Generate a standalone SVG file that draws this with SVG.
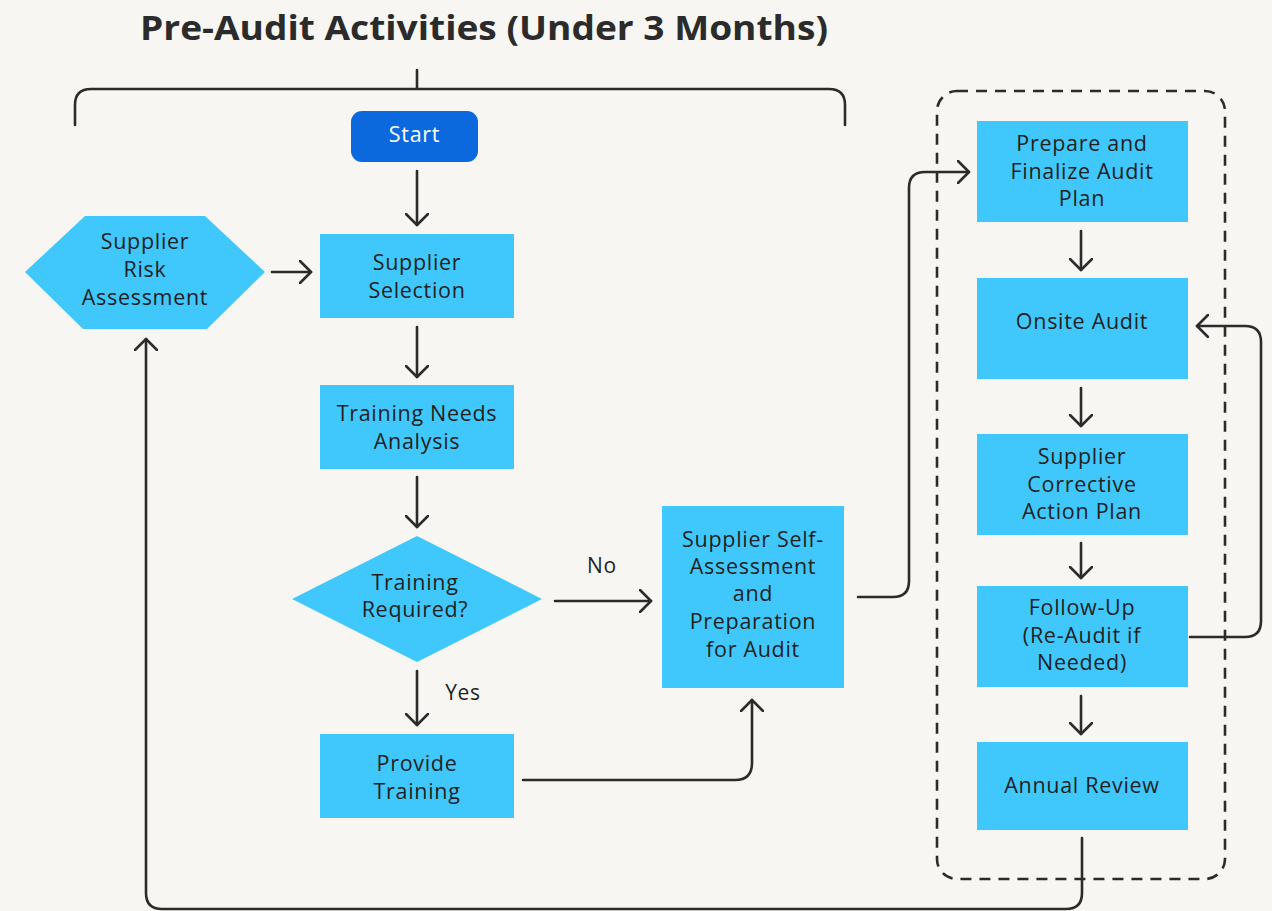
<svg xmlns="http://www.w3.org/2000/svg" width="1272" height="911" viewBox="0 0 1272 911">
<defs>
<marker id="arr" markerUnits="userSpaceOnUse" markerWidth="20" markerHeight="24" refX="12" refY="12" orient="auto">
<path d="M1,1 L12,12 L1,23" fill="none" stroke="#2b2b2b" stroke-width="2.6" stroke-linecap="round" stroke-linejoin="round"/>
</marker>
</defs>
<style>
.bg{fill:#f7f6f2}
.box{fill:#40c8fc}
.t{font-family:"Open Sans","Liberation Sans",sans-serif;font-size:21.5px;letter-spacing:0.7px;fill:#1f1f1f;text-anchor:middle}
.title{font-family:"Open Sans","Liberation Sans",sans-serif;font-size:34px;font-weight:700;fill:#2b2b2b}
.c{fill:none;stroke:#2b2b2b;stroke-width:2.6;stroke-linecap:round;stroke-linejoin:round}
.ca{fill:none;stroke:#2b2b2b;stroke-width:2.6;stroke-linecap:round;stroke-linejoin:round;marker-end:url(#arr)}
.lbl{font-family:"Open Sans","Liberation Sans",sans-serif;font-size:21px;letter-spacing:0.7px;fill:#1f1f1f;text-anchor:middle}
</style>
<rect class="bg" x="0" y="0" width="1272" height="911"/>
<text class="title" x="140" y="40" textLength="688" lengthAdjust="spacingAndGlyphs">Pre-Audit Activities (Under 3 Months)</text>
<g id="bracket">
<path class="c" d="M417,70 L417,89 M75,125 L75,105 Q75,89 91,89 L829,89 Q845,89 845,105 L845,125"/>
</g>
<g id="phase-box">
<rect x="937" y="91" width="288" height="788" rx="20" fill="none" stroke="#2b2b2b" stroke-width="2.6" stroke-dasharray="11,8"/>
</g>
<g id="connectors">
<path class="ca" d="M417,171 L417,225"/>
<path class="ca" d="M417,327 L417,377"/>
<path class="ca" d="M417,477 L417,527"/>
<path class="ca" d="M555,601 L651,601"/>
<path class="ca" d="M417,671 L417,725"/>
<path class="ca" d="M523,780 L735,780 Q752,780 752,763 L752,700"/>
<path class="ca" d="M272,272 L311,272"/>
<path class="ca" d="M858,597 L893,597 Q909,597 909,581 L909,188 Q909,172 925,172 L969,172"/>
<path class="ca" d="M1081,231 L1081,270"/>
<path class="ca" d="M1081,388 L1081,426"/>
<path class="ca" d="M1081,543 L1081,578"/>
<path class="ca" d="M1081,696 L1081,734"/>
<path class="ca" d="M1190,637 L1245,637 Q1261,637 1261,621 L1261,342 Q1261,326 1245,326 L1197,326"/>
<path class="ca" d="M1082,838 L1082,893 Q1082,909 1066,909 L162,909 Q146,909 146,893 L146,339"/>
<text class="lbl" x="602" y="573">No</text>
<text class="lbl" x="463" y="700">Yes</text>
</g>
<g id="start">
<rect x="351" y="111" width="127" height="51" rx="11" fill="#0b69dd"/>
<text class="t" x="414.5" y="142" style="fill:#ffffff">Start</text>
</g>
<g id="supplier-risk">
<polygon class="box" points="25,272 85,216 205,216 265,272 207,329 83,329"/>
<text class="t" x="145" y="249">Supplier</text>
<text class="t" x="145" y="277">Risk</text>
<text class="t" x="145" y="305">Assessment</text>
</g>
<g id="supplier-selection">
<rect class="box" x="320" y="234" width="194" height="84"/>
<text class="t" x="417" y="270">Supplier</text>
<text class="t" x="417" y="298">Selection</text>
</g>
<g id="training-needs">
<rect class="box" x="320" y="385" width="194" height="84"/>
<text class="t" x="417" y="421">Training Needs</text>
<text class="t" x="417" y="449">Analysis</text>
</g>
<g id="training-required">
<polygon class="box" points="417,536 542,599 417,662 292,599"/>
<text class="t" x="415" y="590">Training</text>
<text class="t" x="415" y="617">Required?</text>
</g>
<g id="provide-training">
<rect class="box" x="320" y="734" width="194" height="84"/>
<text class="t" x="417" y="771">Provide</text>
<text class="t" x="417" y="799">Training</text>
</g>
<g id="self-assessment">
<rect class="box" x="662" y="506" width="182" height="182"/>
<text class="t" x="753" y="547">Supplier Self-</text>
<text class="t" x="753" y="574">Assessment</text>
<text class="t" x="753" y="601">and</text>
<text class="t" x="753" y="629">Preparation</text>
<text class="t" x="753" y="657">for Audit</text>
</g>
<g id="prepare-plan">
<rect class="box" x="977" y="121" width="211" height="101"/>
<text class="t" x="1082" y="151">Prepare and</text>
<text class="t" x="1082" y="179">Finalize Audit</text>
<text class="t" x="1082" y="206">Plan</text>
</g>
<g id="onsite-audit">
<rect class="box" x="977" y="278" width="211" height="101"/>
<text class="t" x="1082" y="329">Onsite Audit</text>
</g>
<g id="corrective-action">
<rect class="box" x="977" y="434" width="211" height="101"/>
<text class="t" x="1082" y="464">Supplier</text>
<text class="t" x="1082" y="492">Corrective</text>
<text class="t" x="1082" y="519">Action Plan</text>
</g>
<g id="follow-up">
<rect class="box" x="977" y="586" width="211" height="101"/>
<text class="t" x="1082" y="615">Follow-Up</text>
<text class="t" x="1082" y="643">(Re-Audit if</text>
<text class="t" x="1082" y="670">Needed)</text>
</g>
<g id="annual-review">
<rect class="box" x="977" y="742" width="211" height="88"/>
<text class="t" x="1082" y="793">Annual Review</text>
</g>
</svg>
